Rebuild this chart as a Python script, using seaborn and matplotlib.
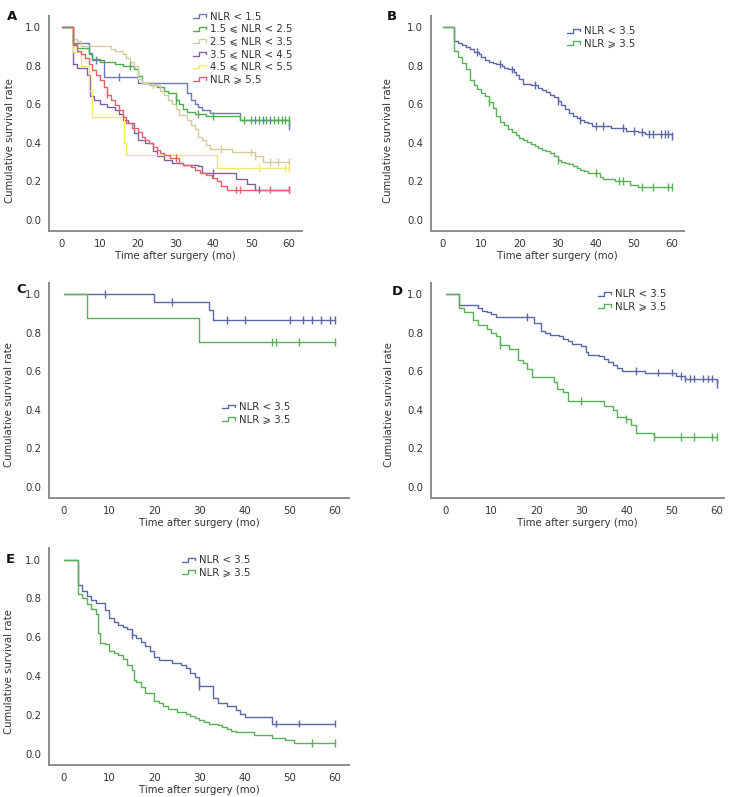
import numpy as np
import pandas as pd
import seaborn as sns
import matplotlib.pyplot as plt
from matplotlib.legend_handler import HandlerBase
from matplotlib.lines import Line2D

sns.set_style("white")
plt.rcParams['font.family'] = ['DejaVu Sans', 'Noto Sans CJK SC']

# ---- panel A: six NLR groups ----
a1_t = [0, 3, 7, 8, 11, 20, 33, 34, 35, 36, 37, 39, 47, 60]
a1_s = [1.0, 0.915, 0.86, 0.83, 0.74, 0.71, 0.66, 0.62, 0.60, 0.585, 0.57, 0.555, 0.52, 0.485]
a1_c = [9, 15, 51, 53, 55, 60]

a2_t = [0, 3, 4, 7, 8, 10, 14, 16, 19, 20, 21, 23, 25, 27, 28, 30, 31, 32, 33, 35, 38, 47]
a2_s = [1.0, 0.91, 0.89, 0.865, 0.835, 0.82, 0.81, 0.80, 0.78, 0.745, 0.71, 0.70, 0.69,
        0.67, 0.66, 0.62, 0.60, 0.575, 0.56, 0.55, 0.54, 0.52]
a2_c = [18, 30, 36, 40, 48, 50, 52, 54, 56, 57, 58, 59, 60]

a3_t = [0, 3, 4, 5, 13, 14, 16, 17, 18, 19, 20, 21, 23, 26, 27, 28, 29, 30, 31, 33, 34,
        35, 36, 37, 38, 39, 45, 51, 53]
a3_s = [1.0, 0.94, 0.925, 0.90, 0.885, 0.875, 0.86, 0.84, 0.82, 0.80, 0.73, 0.71, 0.70,
        0.67, 0.65, 0.62, 0.60, 0.575, 0.545, 0.52, 0.49, 0.47, 0.43, 0.415, 0.39, 0.37,
        0.35, 0.33, 0.30]
a3_c = [24, 42, 50, 51, 55, 57, 60]

a4_t = [0, 3, 4, 6.5, 7.5, 8.5, 10, 12, 14, 15, 16, 17.5, 19, 20, 22, 24, 25, 27, 29,
        32, 36, 37, 46, 49, 51]
a4_s = [1.0, 0.81, 0.785, 0.75, 0.645, 0.62, 0.60, 0.585, 0.57, 0.55, 0.52, 0.50, 0.45,
        0.415, 0.40, 0.36, 0.33, 0.31, 0.295, 0.285, 0.278, 0.245, 0.21, 0.187, 0.158]
a4_c = [40, 52, 60]

a5_t = [0, 3, 5, 7, 8, 16.5, 17, 41]
a5_s = [1.0, 0.87, 0.80, 0.67, 0.535, 0.40, 0.335, 0.268]
a5_c = [52, 59, 60]

a6_t = [0, 3, 4, 5, 6, 7, 8, 9, 10, 11, 12, 13, 14, 15, 16, 17, 18.5, 20, 21, 22, 23,
        24, 25, 26, 27, 28.5, 31, 32, 34, 35, 36.5, 38, 39.5, 41, 42, 43.5]
a6_s = [1.0, 0.905, 0.875, 0.86, 0.84, 0.81, 0.775, 0.75, 0.725, 0.69, 0.65, 0.62, 0.595,
        0.57, 0.535, 0.50, 0.475, 0.457, 0.43, 0.415, 0.40, 0.38, 0.363, 0.347, 0.337,
        0.32, 0.294, 0.285, 0.277, 0.26, 0.243, 0.234, 0.217, 0.20, 0.178, 0.158]
a6_c = [12, 30, 46, 47, 55, 60]

a_labels = ["NLR < 1.5", "1.5 ⩽ NLR < 2.5", "2.5 ⩽ NLR < 3.5",
            "3.5 ⩽ NLR < 4.5", "4.5 ⩽ NLR < 5.5", "NLR ⩾ 5.5"]
a_colors = ["#6a78b8", "#4cae4c", "#d2cb9c", "#80609f", "#f0e86a", "#e8606a"]

# ---- panel B ----
b1_t = [0, 3, 4, 5, 6, 7, 8, 9.5, 10, 11, 12, 13, 14, 15.5, 16, 17, 18.5, 19, 20, 21, 23,
        25, 26, 27, 28, 29, 30, 31, 32, 33, 34, 35, 36, 37, 38, 39, 44, 48, 51, 53, 60]
b1_s = [1.0, 0.925, 0.915, 0.905, 0.895, 0.885, 0.872, 0.86, 0.845, 0.83, 0.82, 0.815,
        0.81, 0.80, 0.79, 0.78, 0.765, 0.75, 0.73, 0.705, 0.70, 0.685, 0.675, 0.665, 0.65,
        0.635, 0.615, 0.595, 0.575, 0.555, 0.54, 0.53, 0.52, 0.51, 0.50, 0.487, 0.475,
        0.462, 0.455, 0.447, 0.437]
b1_c = [9, 15, 18, 24, 30, 36, 40, 42, 47, 50, 52, 54, 55, 57, 58, 59, 60]

b2_t = [0, 3, 4, 5, 6, 7, 8, 9, 10, 11, 12, 13, 14, 15, 16, 17, 18, 19, 20, 21, 22, 23,
        24, 25, 26, 27, 28, 29, 30, 31, 32, 33, 34, 35, 36, 37, 38, 41, 42, 45, 49, 51]
b2_s = [1.0, 0.875, 0.845, 0.815, 0.78, 0.725, 0.70, 0.68, 0.66, 0.645, 0.61, 0.58, 0.54,
        0.51, 0.49, 0.47, 0.455, 0.44, 0.425, 0.415, 0.405, 0.395, 0.385, 0.375, 0.365,
        0.355, 0.345, 0.33, 0.31, 0.30, 0.295, 0.29, 0.28, 0.27, 0.26, 0.255, 0.245,
        0.225, 0.21, 0.20, 0.18, 0.173]
b2_c = [12, 30, 40, 46, 47, 52, 55, 59, 60]

# ---- panel C ----
c1_t = [0, 20, 32, 33]
c1_s = [1.0, 0.96, 0.916, 0.867]
c1_c = [9, 24, 36, 40, 50, 53, 55, 57, 59, 60]

c2_t = [0, 5, 30]
c2_s = [1.0, 0.876, 0.753]
c2_c = [46, 47, 52, 60]

# ---- panel D ----
d1_t = [0, 3, 7, 8, 9, 10, 11, 19.5, 21, 22, 23, 25, 26, 27, 28, 30, 31, 31.5, 34, 35,
        36, 37, 38, 39, 44, 51, 53, 60]
d1_s = [1.0, 0.945, 0.926, 0.914, 0.905, 0.895, 0.88, 0.848, 0.81, 0.80, 0.79, 0.78,
        0.765, 0.755, 0.74, 0.73, 0.70, 0.685, 0.68, 0.665, 0.65, 0.63, 0.615, 0.603,
        0.593, 0.575, 0.562, 0.532]
d1_c = [18, 42, 47, 50, 52, 53, 54, 55, 57, 58, 59, 60]

d2_t = [0, 3, 4, 6, 7, 9, 10, 11, 12, 14, 16, 17, 18, 19, 24, 24.5, 26, 27, 35, 37, 38,
        40, 41, 42, 46]
d2_s = [1.0, 0.925, 0.905, 0.865, 0.84, 0.82, 0.80, 0.78, 0.735, 0.715, 0.66, 0.64,
        0.61, 0.57, 0.544, 0.51, 0.49, 0.446, 0.42, 0.40, 0.363, 0.351, 0.32, 0.282, 0.26]
d2_c = [12, 30, 40, 46, 52, 55, 59, 60]

# ---- panel E ----
e1_t = [0, 3, 4, 5, 6, 7, 9, 10, 11, 12, 13, 14, 15, 16, 17, 18, 19, 20, 21, 24, 26, 27,
        28, 29, 30, 33, 34, 36, 38, 39, 40, 46]
e1_s = [1.0, 0.87, 0.84, 0.81, 0.79, 0.775, 0.74, 0.70, 0.68, 0.665, 0.655, 0.64, 0.61,
        0.595, 0.575, 0.555, 0.53, 0.50, 0.48, 0.465, 0.455, 0.44, 0.415, 0.395, 0.35,
        0.285, 0.26, 0.245, 0.225, 0.205, 0.19, 0.155]
e1_c = [15, 30, 47, 52, 60]

e2_t = [0, 3, 4, 5, 6, 7, 7.5, 8, 9, 10, 11, 12, 13, 14, 15, 15.5, 16, 17, 18, 20, 21,
        22, 23, 25, 27, 28, 29, 30, 31, 32, 34, 35, 36, 37, 38, 42, 46, 49, 51]
e2_s = [1.0, 0.825, 0.80, 0.77, 0.745, 0.72, 0.62, 0.57, 0.565, 0.53, 0.52, 0.51, 0.49,
        0.455, 0.43, 0.38, 0.37, 0.345, 0.31, 0.27, 0.26, 0.245, 0.23, 0.215, 0.205,
        0.195, 0.185, 0.175, 0.165, 0.155, 0.145, 0.135, 0.125, 0.115, 0.11, 0.095, 0.08,
        0.07, 0.055]
e2_c = [55, 60]

two_labels = ["NLR < 3.5", "NLR ⩾ 3.5"]
two_colors = ["#5a68a8", "#58b058"]

x_ticks = [0, 10, 20, 30, 40, 50, 60]
y_ticks = [0.0, 0.2, 0.4, 0.6, 0.8, 1.0]

W, H = 736, 797
fig = plt.figure(figsize=(W / 100, H / 100), dpi=100)


class StepHandler(HandlerBase):
    # little step glyph like the SPSS legend keys
    def create_artists(self, legend, orig_handle, xdescent, ydescent, width, height,
                       fontsize, trans):
        x0, y0 = -xdescent, -ydescent
        xs = [x0, x0 + 0.45 * width, x0 + 0.45 * width, x0 + width, x0 + width]
        ys = [y0 + 0.2 * height, y0 + 0.2 * height, y0 + 0.75 * height,
              y0 + 0.75 * height, y0 + 0.4 * height]
        ln = Line2D(xs, ys, color=orig_handle.get_color(), lw=1.0)
        ln.set_transform(trans)
        return [ln]


def px_axes(left, top, right, bottom):
    return fig.add_axes([left / W, 1 - bottom / H, (right - left) / W, (bottom - top) / H])


def draw(ax, curves, labels, colors, xlim, ylim, ylab_xy, leg_xy):
    lines, marks = [], []
    for (t, s, c), lab in zip(curves, labels):
        for ti, si in zip(t, s):
            lines.append((ti, si, lab))
        lines.append((60, s[-1], lab))
        for ci in c:
            k = np.searchsorted(t, ci, side="right") - 1
            marks.append((ci, s[k], lab))
    df = pd.DataFrame(lines, columns=["time", "surv", "group"])
    cm = pd.DataFrame(marks, columns=["time", "surv", "group"])
    pal = dict(zip(labels, colors))
    sns.lineplot(data=df, x="time", y="surv", hue="group", hue_order=labels, palette=pal,
                 estimator=None, drawstyle="steps-post", lw=1.0, ax=ax)
    sns.scatterplot(data=cm, x="time", y="surv", hue="group", hue_order=labels, palette=pal,
                    marker="|", s=32, linewidth=1.0, legend=False, ax=ax, zorder=3)
    ax.set_xlim(*xlim)
    ax.set_ylim(*ylim)
    ax.set_xticks(x_ticks)
    ax.set_yticks(y_ticks)
    ax.set_yticklabels([f"{v:.1f}" for v in y_ticks])
    for side in ["top", "right"]:
        ax.spines[side].set_visible(False)
    for side in ["left", "bottom"]:
        ax.spines[side].set_color("#8c8c8c")
        ax.spines[side].set_linewidth(1.4)
    ax.tick_params(axis="both", direction="out", length=3, width=0.8, color="#8c8c8c",
                   labelsize=7.3, labelcolor="#333333", pad=2.5)
    ax.set_xlabel("Time after surgery (mo)", fontsize=7.3, color="#333333", labelpad=2)
    ax.set_ylabel("Cumulative survival rate", fontsize=7.3, color="#333333")
    ax.yaxis.set_label_coords(*ylab_xy)
    ax.legend(loc="upper left", bbox_to_anchor=leg_xy, frameon=False, fontsize=7.3,
              handlelength=1.3, handletextpad=0.4, labelspacing=0.25, borderpad=0,
              borderaxespad=0, labelcolor="#333333", handler_map={Line2D: StepHandler()})


ylim = (-0.057, 1.057)

axA = px_axes(49, 16, 302, 231)
draw(axA, [(a1_t, a1_s, a1_c), (a2_t, a2_s, a2_c), (a3_t, a3_s, a3_c),
           (a4_t, a4_s, a4_c), (a5_t, a5_s, a5_c), (a6_t, a6_s, a6_c)],
     a_labels, a_colors, (-3.44, 63.4), ylim, (-0.136, 0.42), (0.569, 1.02))

axB = px_axes(431, 16, 684, 231)
draw(axB, [(b1_t, b1_s, b1_c), (b2_t, b2_s, b2_c)], two_labels, two_colors,
     (-3.14, 63.1), ylim, (-0.15, 0.42), (0.538, 0.953))

axC = px_axes(49, 283, 349, 498)
draw(axC, [(c1_t, c1_s, c1_c), (c2_t, c2_s, c2_c)], two_labels, two_colors,
     (-3.32, 63.1), ylim, (-0.117, 0.433), (0.577, 0.447))

axD = px_axes(431, 283, 724, 498)
draw(axD, [(d1_t, d1_s, d1_c), (d2_t, d2_s, d2_c)], two_labels, two_colors,
     (-3.3, 61.6), ylim, (-0.126, 0.433), (0.57, 0.972))

axE = px_axes(49, 548, 349, 765)
draw(axE, [(e1_t, e1_s, e1_c), (e2_t, e2_s, e2_c)], two_labels, two_colors,
     (-3.32, 63.1), (-0.059, 1.06), (-0.118, 0.43), (0.443, 0.968))

for letter, x, y in [("A", 7, 20), ("B", 387, 20), ("C", 16, 293), ("D", 392, 295), ("E", 6, 563)]:
    fig.text(x / W, 1 - y / H, letter, fontsize=9.5, fontweight="bold", color="#111111",
             va="baseline", ha="left")

fig.savefig("out.png", dpi=100)
